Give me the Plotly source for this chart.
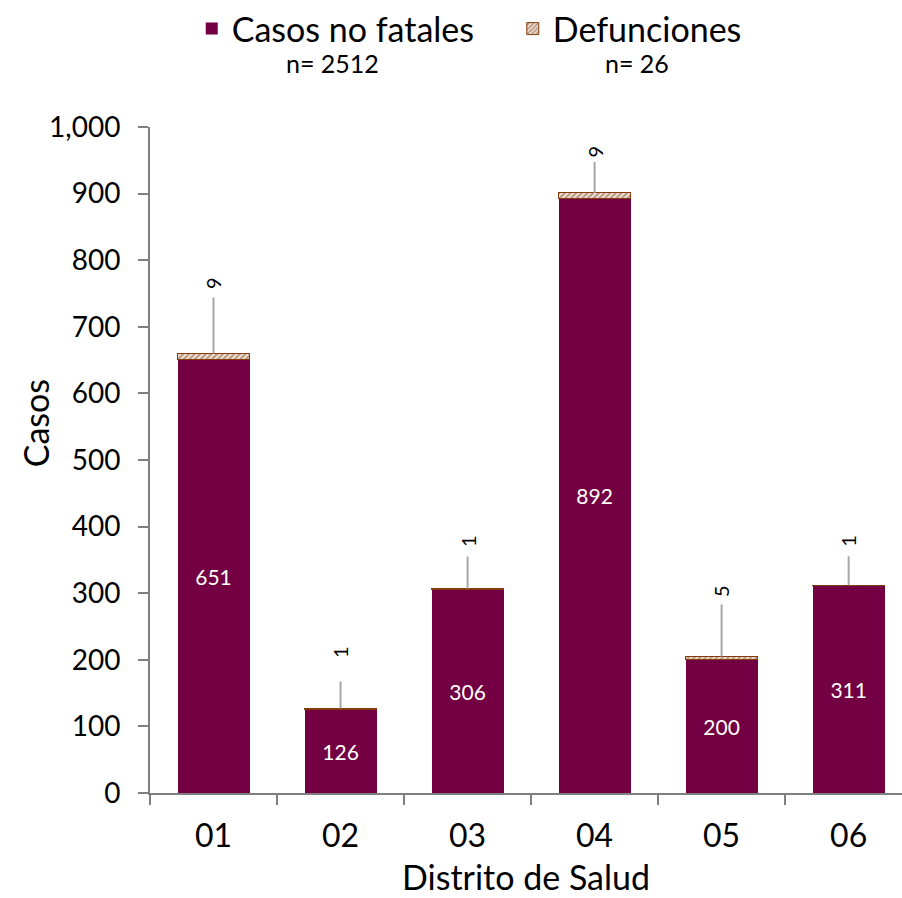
import plotly.graph_objects as go

# ---- data ----
categories = ["01", "02", "03", "04", "05", "06"]
casos_no_fatales = [651, 126, 306, 892, 200, 311]
defunciones = [9, 1, 1, 9, 5, 1]
legend_names = ["Casos no fatales", "Defunciones"]
legend_counts = ["n= 2512", "n= 26"]
y_ticks = [0, 100, 200, 300, 400, 500, 600, 700, 800, 900, 1000]

# ---- styling / placement (pixels) ----
BAR_COLOR = "#720042"
DEF_COLOR = "#843C0C"
FONT = "Lato"
leader_len = [56, 27, 32, 31, 52, 29]     # px length of leader lines
label_shift = [70, 56, 47, 41, 65, 44]    # px from stack top to label center

totals = [a + b for a, b in zip(casos_no_fatales, defunciones)]

fig = go.Figure()
fig.add_trace(go.Bar(
    x=categories, y=casos_no_fatales, name=legend_names[0],
    marker=dict(color=BAR_COLOR, line=dict(width=0)),
    text=casos_no_fatales, textposition="inside", insidetextanchor="middle",
    textfont=dict(color="white", size=21, family=FONT),
    textangle=0, legend="legend",
))
fig.add_trace(go.Bar(
    x=categories, y=defunciones, name=legend_names[1],
    marker=dict(color="white",
                pattern=dict(shape="/", fgcolor=DEF_COLOR, bgcolor="white",
                             size=4, solidity=0.7),
                line=dict(color=DEF_COLOR, width=1)),
    legend="legend2",
))

for i, c in enumerate(categories):
    fig.add_shape(type="line", xref="x", yref="y", x0=i, x1=i,
                  ysizemode="pixel", yanchor=totals[i], y0=0, y1=leader_len[i],
                  line=dict(color="#A6A6A6", width=2))
    fig.add_annotation(x=i, y=totals[i], xref="x", yref="y",
                       text=str(defunciones[i]), showarrow=False,
                       textangle=-90, yanchor="middle", xanchor="center",
                       yshift=label_shift[i],
                       font=dict(size=20, color="black", family=FONT))

# legend counts below legend entries
fig.add_annotation(x=0.243, y=1.096, xref="paper", yref="paper",
                   xanchor="center", yanchor="middle",
                   text=legend_counts[0], showarrow=False,
                   font=dict(size=25, color="black", family=FONT))
fig.add_annotation(x=0.648, y=1.096, xref="paper", yref="paper",
                   xanchor="center", yanchor="middle",
                   text=legend_counts[1], showarrow=False,
                   font=dict(size=25, color="black", family=FONT))

# axis titles
fig.add_annotation(x=-0.153, y=0.555, xref="paper", yref="paper",
                   xanchor="center", yanchor="middle",
                   text="Casos", showarrow=False, textangle=-90,
                   font=dict(size=34, color="black", family=FONT))
fig.add_annotation(x=0.500, y=-0.126, xref="paper", yref="paper",
                   xanchor="center", yanchor="middle",
                   text="Distrito de Salud", showarrow=False,
                   font=dict(size=34, color="black", family=FONT))

leg_common = dict(orientation="h", xanchor="center", y=1.147, yanchor="middle",
                  font=dict(size=34, family=FONT), itemwidth=30,
                  bgcolor="rgba(0,0,0,0)")
fig.update_layout(
    width=902, height=898,
    margin=dict(l=150, r=0, t=126, b=105),
    barmode="stack", bargap=0.433,
    plot_bgcolor="white", paper_bgcolor="white",
    font=dict(family=FONT, color="black"),
    showlegend=True,
    legend=dict(x=0.247, **leg_common),
    legend2=dict(x=0.638, **leg_common),
)
fig.update_xaxes(
    type="category", range=[-0.5, 5.42],
    showline=True, linecolor="#7F7F7F", linewidth=2,
    ticks="outside", ticklen=10, tickcolor="#7F7F7F", tickwidth=2,
    tickson="boundaries", ticklabelstandoff=14,
    tickfont=dict(size=32, family=FONT),
    showgrid=False, zeroline=False,
)
fig.update_yaxes(
    range=[0, 1000], tickvals=y_ticks, tickformat=",",
    showline=True, linecolor="#7F7F7F", linewidth=2,
    ticks="outside", ticklen=10, tickcolor="#7F7F7F", tickwidth=2,
    ticklabelstandoff=12,
    tickfont=dict(size=28, family=FONT),
    showgrid=False, zeroline=False,
)

fig.write_html("out.html", config={"displayModeBar": False},
               post_script="document.body.style.margin='0';document.body.style.overflow='hidden';")
